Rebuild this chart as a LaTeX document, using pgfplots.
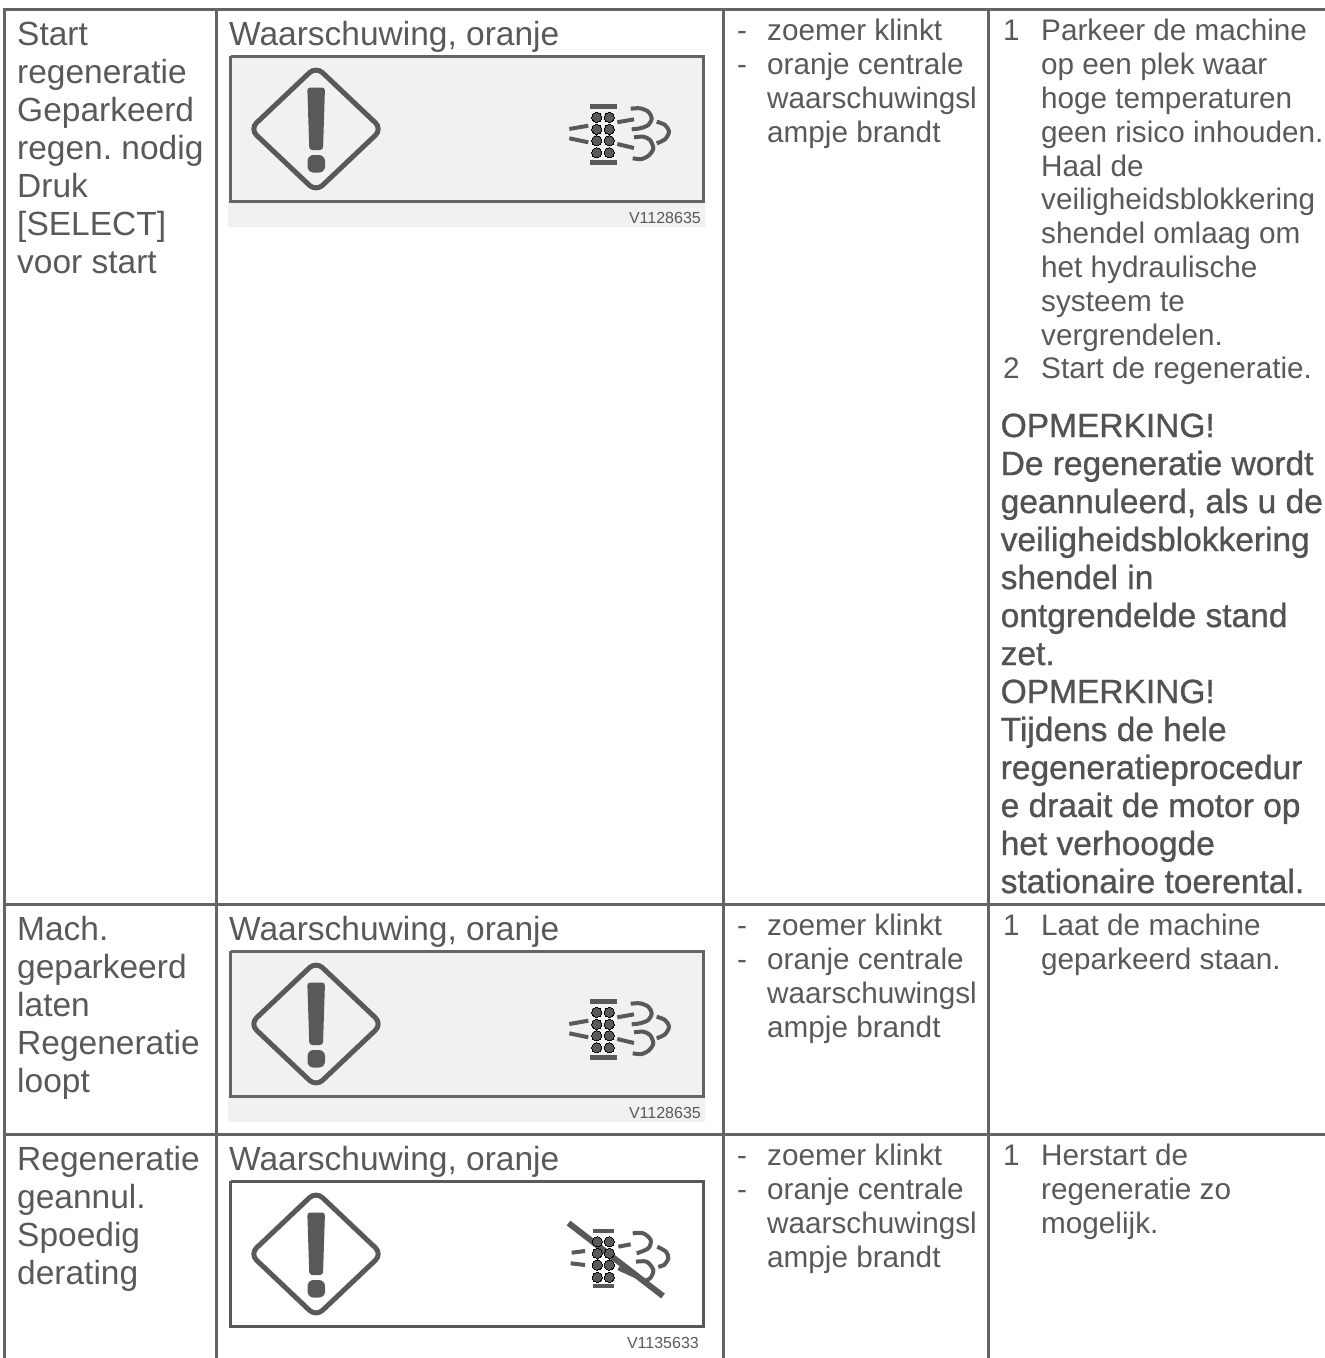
\documentclass[border=0pt]{standalone}
\usepackage{pgfplots}
\pgfplotsset{compat=1.18}
\usepackage{fontspec}
\setmainfont{Liberation Sans}
\newfontfamily\boldish[FakeBold=0.9]{Liberation Sans}
\definecolor{ink}{HTML}{58595B}
\definecolor{rule}{HTML}{636466}
\definecolor{panel}{HTML}{F0F1F1}
\newcommand\fA{\frenchspacing\fontsize{33.5}{38}\selectfont}
\newcommand\fB{\frenchspacing\fontsize{29.7}{34}\selectfont}
\newcommand\fC{\frenchspacing\boldish\fontsize{33.5}{38}\selectfont}
\newcommand\fD{\fontsize{16}{18}\selectfont}
\newcommand\tA[3]{\node[anchor=base west,inner sep=0pt,text=ink,font=\fA] at (axis cs:#1,#2) {#3};}
\newcommand\tB[3]{\node[anchor=base west,inner sep=0pt,text=ink,font=\fB,yshift=-0.7pt] at (axis cs:#1,#2) {#3};}
\newcommand\tC[2]{\node[anchor=base west,inner sep=0pt,text=ink!92!black,font=\fC] at (axis cs:1000.5,#1) {#2};}
\pgfplotsset{ic/.style={y filter/.expression={y+#1}}}
% warning symbol (diamond and exclamation mark)
\newcommand\diamondmark[1]{%
  \addplot[ic=#1,draw=ink,line width=5pt,rounded corners=9pt] coordinates {(283,97.75) (316,66.5) (382,129) (316,191.5) (250,129) (283,97.75)};
  \addplot[ic=#1,fill=ink,draw=none,rounded corners=3pt] coordinates {(316,87.5) (325,87.5) (323,150) (309.3,150) (307.3,87.5) (316,87.5)};
  \addplot[ic=#1,fill=ink,draw=none,rounded corners=6pt] coordinates {(316,155) (325,155) (325,172.5) (307.5,172.5) (307.5,155) (316,155)};
}
% exhaust symbol
\newcommand\engine[1]{%
  \addplot[ic=#1,only marks,mark=*,mark size=5.2pt,mark options={fill=ink,draw=none,line width=0pt}] coordinates {
    (596.7,117.3) (609.3,117.3) (596.7,129.3) (609.3,129.3) (596.7,140.7) (609.3,140.7) (596.7,152.7) (609.3,152.7)};
  \addplot[ic=#1,draw=ink,line width=4.5pt] coordinates {(590,106.7) (617.3,106.7)};
  \addplot[ic=#1,draw=ink,line width=4.5pt] coordinates {(590,162.7) (617.3,162.7)};
  \addplot[ic=#1,draw=ink,line width=4pt] coordinates {(569.3,129) (588.3,125.7)};
  \addplot[ic=#1,draw=ink,line width=4pt] coordinates {(569.3,138.3) (588.3,142.3)};
  \addplot[ic=#1,draw=ink,line width=4pt] coordinates {(617.3,122.3) (634,119.3)};
  \addplot[ic=#1,draw=ink,line width=4pt] coordinates {(617.3,144) (634,148)};
  \addplot[ic=#1,draw=ink,line width=4pt,smooth] coordinates {(630.7,108.7) (640,108.3) (648.3,111.7) (651.7,118.3) (648.3,125) (640,128.3) (631.7,129.3)};
  \addplot[ic=#1,draw=ink,line width=4pt,smooth] coordinates {(634,137.3) (643.3,136.7) (650,140) (653.3,148.3) (649.3,155) (641.7,159) (632.7,158.3)};
  \addplot[ic=#1,draw=ink,line width=4pt,smooth] coordinates {(656.7,121.7) (665,125) (669,131.7) (665,139.3) (656.7,143.3)};
}
\begin{document}
\begin{tikzpicture}
\begin{axis}[
  scale only axis, width=1325pt, height=1358pt,
  xmin=0, xmax=1325, ymin=0, ymax=1358, y dir=reverse,
  hide axis, clip=true]
% full page extent
\addplot[draw=none] coordinates {(0,0) (1325,1358)};
% panels
\addplot[fill=panel,draw=none] coordinates {(228,201) (705,201) (705,227) (228,227) (228,201)};
\addplot[fill=panel,draw=none] coordinates {(228,1096) (705,1096) (705,1122) (228,1122) (228,1096)};
\addplot[fill=panel,draw=rule,line width=3pt] coordinates {(230.5,56) (703.5,56) (703.5,201.5) (230.5,201.5) (230.5,56)};
\addplot[fill=panel,draw=rule,line width=3pt] coordinates {(230.5,951) (703.5,951) (703.5,1096.5) (230.5,1096.5) (230.5,951)};
\addplot[fill=white,draw=ink,line width=3pt] coordinates {(230.5,1181) (703.5,1181) (703.5,1326.5) (230.5,1326.5) (230.5,1181)};
% table rules
\addplot[draw=rule,line width=3pt] coordinates {(3,9.5) (1325,9.5)};
\addplot[draw=rule,line width=3pt] coordinates {(3,904) (1325,904)};
\addplot[draw=rule,line width=3pt] coordinates {(3,1134) (1325,1134)};
\addplot[draw=rule,line width=3pt] coordinates {(4.5,8) (4.5,1358)};
\addplot[draw=rule,line width=3pt] coordinates {(216.5,8) (216.5,1358)};
\addplot[draw=rule,line width=3pt] coordinates {(723,8) (723,1358)};
\addplot[draw=rule,line width=3pt] coordinates {(988,8) (988,1358)};
% symbols
\diamondmark{0}
\engine{0}
\diamondmark{895}
\engine{895}
\diamondmark{1125}
% crossed-out exhaust symbol
\addplot[only marks,mark=*,mark size=5.2pt,mark options={fill=ink,draw=none,line width=0pt}] coordinates {
  (597.3,1241.7) (609.3,1241.7) (597.3,1253.3) (609.3,1253.3) (597.3,1265) (609.3,1265) (597.3,1277.3) (609.3,1277.3)};
\addplot[draw=ink,line width=4pt] coordinates {(592.7,1230.7) (614,1230.7)};
\addplot[draw=ink,line width=4pt] coordinates {(592.7,1286) (614,1286)};
\addplot[draw=ink,line width=4pt] coordinates {(571.7,1252.7) (585,1251)};
\addplot[draw=ink,line width=4pt] coordinates {(570.7,1263.3) (585,1265)};
\addplot[draw=ink,line width=4pt] coordinates {(618.3,1246.7) (630.7,1244.3)};
\addplot[draw=ink,line width=4pt] coordinates {(618.3,1268.3) (636.7,1276.7)};
\addplot[draw=ink,line width=4pt,smooth] coordinates {(632.7,1233.3) (643.3,1233.3) (650.7,1240) (648.3,1248.3) (636.7,1253.3)};
\addplot[draw=ink,line width=4pt,smooth] coordinates {(636,1261.7) (646.7,1261.7) (653.3,1270) (650,1278.3) (641.7,1281.7)};
\addplot[draw=ink,line width=4pt,smooth] coordinates {(657.3,1246.7) (666,1251.7) (668.3,1258.3) (664,1265) (658.3,1266.7)};
\addplot[draw=ink,line width=6pt] coordinates {(568.5,1223) (663,1296)};
% column 1
\tA{17}{45}{Start}
\tA{17}{83}{regeneratie}
\tA{17}{121}{Geparkeerd}
\tA{17}{159}{regen. nodig}
\tA{17}{197}{Druk}
\tA{17}{235}{[SELECT]}
\tA{17}{273}{voor start}
\tA{17}{940}{Mach.}
\tA{17}{978}{geparkeerd}
\tA{17}{1016}{laten}
\tA{17}{1054}{Regeneratie}
\tA{17}{1092}{loopt}
\tA{17}{1170}{Regeneratie}
\tA{17}{1208}{geannul.}
\tA{17}{1246}{Spoedig}
\tA{17}{1284}{derating}
% column 2
\tA{229}{45}{Waarschuwing, oranje}
\tA{229}{940}{Waarschuwing, oranje}
\tA{229}{1170}{Waarschuwing, oranje}
\node[anchor=base east,inner sep=0pt,text=ink,font=\fD] at (axis cs:701,223) {V1128635};
\node[anchor=base east,inner sep=0pt,text=ink,font=\fD] at (axis cs:701,1118) {V1128635};
\node[anchor=base east,inner sep=0pt,text=ink,font=\fD] at (axis cs:699,1348) {V1135633};
% column 3
\tB{737}{40}{-}\tB{767}{40}{zoemer klinkt}
\tB{737}{74}{-}\tB{767}{74}{oranje centrale}
\tB{767}{108}{waarschuwingsl}
\tB{767}{142}{ampje brandt}
\tB{737}{935}{-}\tB{767}{935}{zoemer klinkt}
\tB{737}{969}{-}\tB{767}{969}{oranje centrale}
\tB{767}{1003}{waarschuwingsl}
\tB{767}{1037}{ampje brandt}
\tB{737}{1165}{-}\tB{767}{1165}{zoemer klinkt}
\tB{737}{1199}{-}\tB{767}{1199}{oranje centrale}
\tB{767}{1233}{waarschuwingsl}
\tB{767}{1267}{ampje brandt}
% column 4
\tB{1003}{40}{1}\tB{1041}{40}{Parkeer de machine}
\tB{1041}{74}{op een plek waar}
\tB{1041}{108}{hoge temperaturen}
\tB{1041}{142}{geen risico inhouden.}
\tB{1041}{176}{Haal de}
\tB{1041}{209}{veiligheidsblokkering}
\tB{1041}{243}{shendel omlaag om}
\tB{1041}{277}{het hydraulische}
\tB{1041}{311}{systeem te}
\tB{1041}{345}{vergrendelen.}
\tB{1003}{378}{2}\tB{1041}{378}{Start de regeneratie.}
\tC{437}{OPMERKING!}
\tC{475}{De regeneratie wordt}
\tC{513}{geannuleerd, als u de}
\tC{551}{veiligheidsblokkering}
\tC{589}{shendel in}
\tC{627}{ontgrendelde stand}
\tC{665}{zet.}
\tC{703}{OPMERKING!}
\tC{741}{Tijdens de hele}
\tC{779}{regeneratieprocedur}
\tC{817}{e draait de motor op}
\tC{855}{het verhoogde}
\tC{893}{stationaire toerental.}
\tB{1003}{935}{1}\tB{1041}{935}{Laat de machine}
\tB{1041}{969}{geparkeerd staan.}
\tB{1003}{1165}{1}\tB{1041}{1165}{Herstart de}
\tB{1041}{1199}{regeneratie zo}
\tB{1041}{1233}{mogelijk.}
\end{axis}
\end{tikzpicture}
\end{document}
